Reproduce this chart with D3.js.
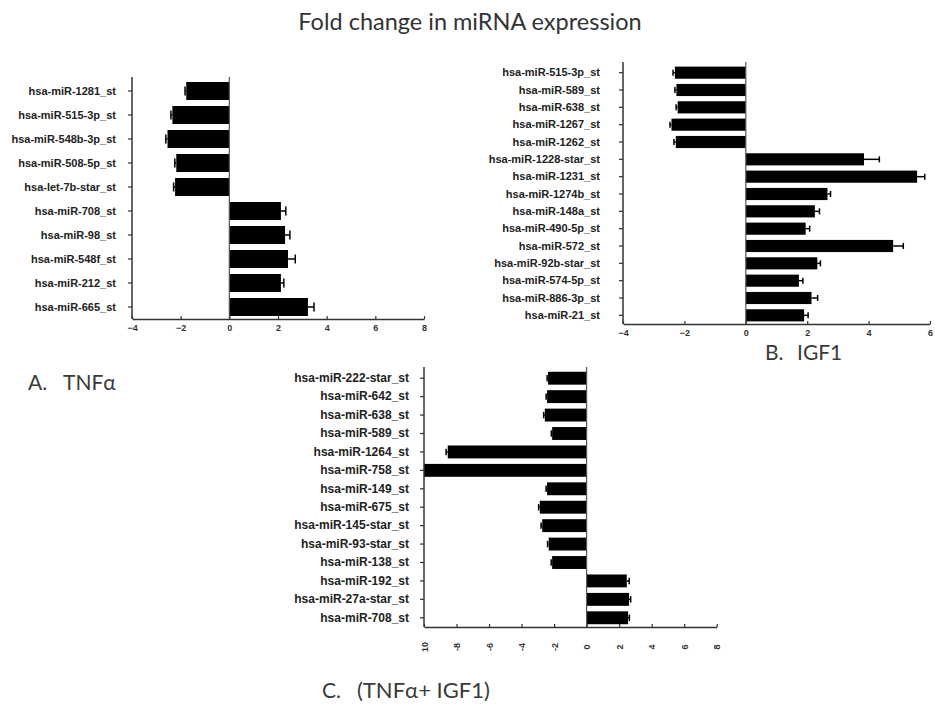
<!DOCTYPE html>
<html>
<head>
<meta charset="utf-8">
<script src="https://cdn.jsdelivr.net/npm/d3@7/dist/d3.min.js"></script>
<style>
  html, body { margin: 0; padding: 0; background: #fff; }
  svg { display: block; }
</style>
</head>
<body>
<svg id="chart" width="935" height="704"></svg>
<script>
// ---------- DATA ----------
const labelsA = ["hsa-miR-1281_st","hsa-miR-515-3p_st","hsa-miR-548b-3p_st","hsa-miR-508-5p_st","hsa-let-7b-star_st","hsa-miR-708_st","hsa-miR-98_st","hsa-miR-548f_st","hsa-miR-212_st","hsa-miR-665_st"];
const valuesA = [-1.77,-2.34,-2.54,-2.18,-2.23,2.12,2.29,2.41,2.12,3.23];
const errorsA = [0.05,0.06,0.07,0.06,0.06,0.2,0.2,0.3,0.12,0.25];
const ticksA = [-4,-2,0,2,4,6,8];

const labelsB = ["hsa-miR-515-3p_st","hsa-miR-589_st","hsa-miR-638_st","hsa-miR-1267_st","hsa-miR-1262_st","hsa-miR-1228-star_st","hsa-miR-1231_st","hsa-miR-1274b_st","hsa-miR-148a_st","hsa-miR-490-5p_st","hsa-miR-572_st","hsa-miR-92b-star_st","hsa-miR-574-5p_st","hsa-miR-886-3p_st","hsa-miR-21_st"];
const valuesB = [-2.31,-2.26,-2.22,-2.42,-2.28,3.85,5.58,2.66,2.25,1.95,4.8,2.33,1.73,2.14,1.9];
const errorsB = [0.06,0.05,0.05,0.05,0.06,0.5,0.25,0.1,0.15,0.13,0.33,0.1,0.13,0.2,0.13];
const ticksB = [-4,-2,0,2,4,6];

const labelsC = ["hsa-miR-222-star_st","hsa-miR-642_st","hsa-miR-638_st","hsa-miR-589_st","hsa-miR-1264_st","hsa-miR-758_st","hsa-miR-149_st","hsa-miR-675_st","hsa-miR-145-star_st","hsa-miR-93-star_st","hsa-miR-138_st","hsa-miR-192_st","hsa-miR-27a-star_st","hsa-miR-708_st"];
const valuesC = [-2.37,-2.43,-2.57,-2.12,-8.54,-10,-2.43,-2.88,-2.73,-2.33,-2.12,2.47,2.61,2.55];
const errorsC = [0.06,0.06,0.07,0.05,0.1,0,0.06,0.07,0.07,0.07,0.06,0.15,0.1,0.08];
const ticksC = [-10,-8,-6,-4,-2,0,2,4,6,8];
const tickLabelsC = ["10","-8","-6","-4","-2","0","2","4","6","8"];

const titleText = "Fold change in miRNA expression";

// ---------- DRAW ----------
const svg = d3.select("#chart");
const axisColor = "#333";

function panel(cfg) {
  const g = svg.append("g");
  const x = d3.scaleLinear().domain(cfg.xDomain).range(cfg.xRange);
  const y = d3.scaleBand().domain(cfg.labels).range(cfg.yRange).paddingInner(cfg.pad).paddingOuter(cfg.pad / 2);
  const bh = y.bandwidth();

  const data = cfg.labels.map((l, i) => ({l, v: cfg.values[i], e: cfg.errors[i]}));
  const x0 = x(0);
  const xmin = cfg.xRange[0];
  g.selectAll("rect.bar").data(data).join("rect")
    .attr("x", d => Math.max(xmin, Math.min(x(d.v), x0)))
    .attr("y", d => y(d.l))
    .attr("width", d => Math.abs(Math.max(xmin, x(d.v)) - x0))
    .attr("height", bh)
    .attr("fill", "#000");

  // error bars
  const eb = g.selectAll("g.err").data(data.filter(d => d.e > 0)).join("g");
  eb.append("line")
    .attr("x1", d => x(d.v))
    .attr("x2", d => x(d.v + Math.sign(d.v) * d.e))
    .attr("y1", d => y(d.l) + bh / 2)
    .attr("y2", d => y(d.l) + bh / 2)
    .attr("stroke", "#000").attr("stroke-width", 1.5);
  eb.append("line")
    .attr("x1", d => x(d.v + Math.sign(d.v) * d.e))
    .attr("x2", d => x(d.v + Math.sign(d.v) * d.e))
    .attr("y1", d => y(d.l) + bh * 0.25)
    .attr("y2", d => y(d.l) + bh * 0.75)
    .attr("stroke", "#000").attr("stroke-width", 1.5);

  // zero line
  g.append("line")
    .attr("x1", x0).attr("x2", x0)
    .attr("y1", cfg.yRange[0] - 2).attr("y2", cfg.yRange[1])
    .attr("stroke", "#555").attr("stroke-width", 1.2);

  // y axis
  const yAxis = d3.axisLeft(y).tickSize(4).tickPadding(cfg.labelGap);
  const ya = g.append("g").attr("transform", `translate(${cfg.xRange[0]},0)`).call(yAxis);
  ya.select(".domain").attr("d", `M0,${cfg.yRange[0] - 2}V${cfg.yRange[1]}`).attr("stroke", axisColor).attr("stroke-width", 1.5);
  ya.selectAll(".tick line").attr("stroke", axisColor).attr("stroke-width", 1.2);
  ya.selectAll(".tick text")
    .attr("font-family", "'Liberation Sans', Arial, sans-serif")
    .attr("font-weight", "bold")
    .attr("font-size", cfg.labelSize)
    .attr("fill", "#222");

  // x axis
  const xAxis = d3.axisBottom(x).tickValues(cfg.ticks).tickSizeInner(-3).tickSizeOuter(0)
    .tickFormat((d, i) => cfg.tickLabels ? cfg.tickLabels[i] : d3.format("d")(d));
  const xa = g.append("g").attr("transform", `translate(0,${cfg.yRange[1]})`).call(xAxis);
  xa.select(".domain").attr("stroke", axisColor).attr("stroke-width", 1.5);
  xa.selectAll(".tick line").attr("stroke", axisColor).attr("stroke-width", 1.2);
  const tt = xa.selectAll(".tick text")
    .attr("font-family", "'Liberation Sans', Arial, sans-serif")
    .attr("font-weight", "bold")
    .attr("font-size", 9)
    .attr("fill", "#333");
  if (cfg.rotate) {
    tt.attr("transform", "rotate(-90)")
      .attr("text-anchor", "middle")
      .attr("x", -20).attr("y", 0).attr("dy", "0.35em");
  } else {
    tt.attr("y", 6);
  }
}

panel({labels: labelsA, values: valuesA, errors: errorsA, ticks: ticksA,
  xDomain: [-4, 8], xRange: [132, 424], yRange: [79, 319], pad: 0.25, labelGap: 12, labelSize: 11});
panel({labels: labelsB, values: valuesB, errors: errorsB, ticks: ticksB,
  xDomain: [-4, 6], xRange: [623, 930], yRange: [64, 324], pad: 0.3, labelGap: 19, labelSize: 11});
panel({labels: labelsC, values: valuesC, errors: errorsC, ticks: ticksC, tickLabels: tickLabelsC, rotate: true,
  xDomain: [-10, 8], xRange: [424, 716.7], yRange: [369, 627], pad: 0.3, labelGap: 11, labelSize: 12});

// texts
const txtFont = "Lato, 'Open Sans', sans-serif";
function label(x, y, t, size) {
  svg.append("text").attr("x", x).attr("y", y)
    .attr("font-family", txtFont).attr("font-size", size).attr("fill", "#3a3a3a").text(t);
}
svg.append("text").attr("x", 470).attr("y", 30).attr("text-anchor", "middle")
  .attr("font-family", txtFont).attr("font-size", 23.5).attr("fill", "#333").text(titleText);
label(28, 390, "A.", 21);
label(63, 390, "TNFα", 21);
label(765, 360, "B.", 21);
label(797, 360, "IGF1", 21);
label(322, 698, "C.", 21);
label(357, 698, "(TNFα+ IGF1)", 22);
</script>
</body>
</html>
